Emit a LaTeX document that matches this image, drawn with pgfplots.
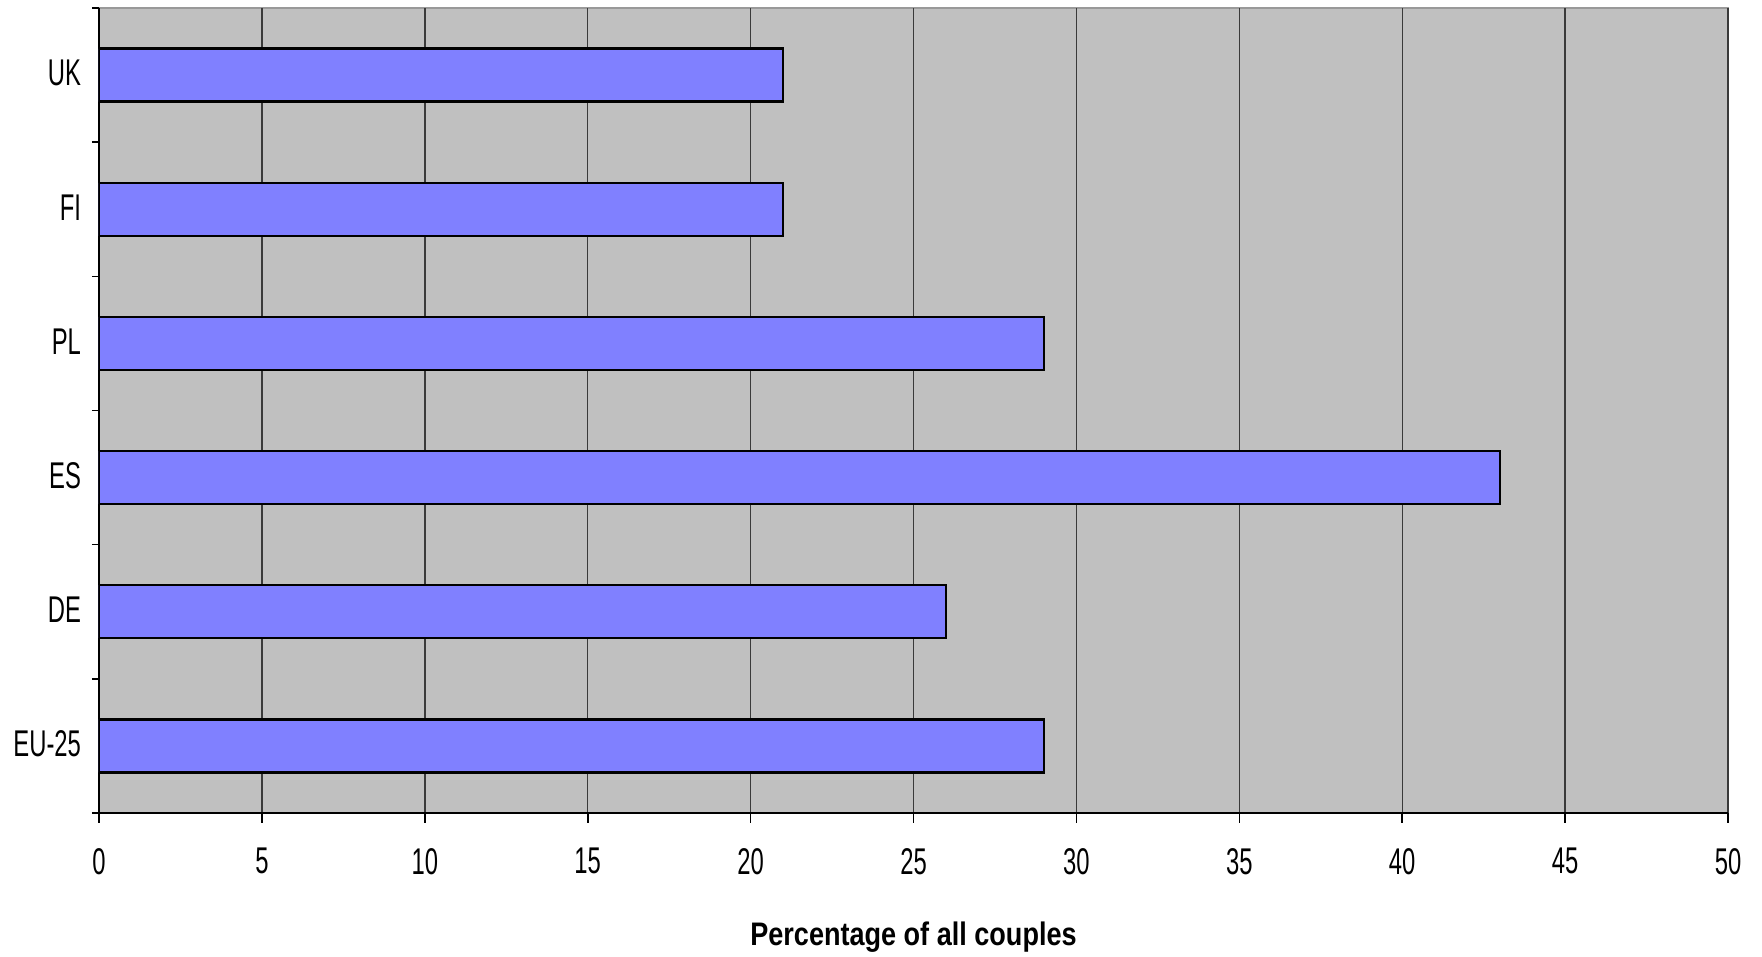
\documentclass[border=0pt]{standalone}
\usepackage{pgfplots}
\pgfplotsset{compat=1.18}
\usepackage{fontspec}
\setmainfont[FakeStretch=0.64]{Liberation Sans}
\newfontfamily\labfont[FakeStretch=0.83]{Liberation Sans}
\definecolor{barfill}{HTML}{8080FF}
\definecolor{bg}{HTML}{C0C0C0}
\definecolor{gridc}{HTML}{3A3A3A}
\begin{document}
\begin{tikzpicture}
\useasboundingbox (-49.5pt,-72pt) rectangle (831.5pt,406.5pt);
\begin{axis}[
  at={(0,0)}, anchor=south west,
  scale only axis,
  width=814.5pt, height=402.5pt,
  xbar, bar width=26.5pt,
  xmin=0, xmax=50,
  ymin=-0.5, ymax=5.5,
  xtick={0,5,...,50},
  ytick={0,...,5},
  yticklabels={EU-25,DE,ES,PL,FI,UK},
  minor ytick={-0.5,0.5,...,5.5},
  axis x line*=bottom, axis y line*=left,
  axis line style={black, line width=1pt},
  axis background/.style={fill=bg, draw=gray!80, line width=1pt},
  xmajorgrids,
  major grid style={gridc, line width=0.7pt},
  tick align=outside,
  major tick length=5pt, minor tick length=3.5pt,
  major x tick style={black, line width=0.8pt},
  major y tick style={draw=none},
  minor y tick style={black, line width=0.8pt},
  tick label style={font=\fontsize{18.6}{20}\selectfont},
  /pgf/number format/assume math mode=true,
  xticklabel style={yshift=-9pt},
  yticklabel style={xshift=-0.5pt, yshift=1pt},
  xlabel={\labfont\bfseries\fontsize{16.3}{18}\selectfont Percentage of all couples},
  xlabel style={yshift=-17pt},
]
\addplot[fill=barfill, draw=black, line width=1.2pt] coordinates {
  (29,0) (26,1) (43,2) (29,3) (21,4) (21,5)
};
\end{axis}
\end{tikzpicture}
\end{document}
